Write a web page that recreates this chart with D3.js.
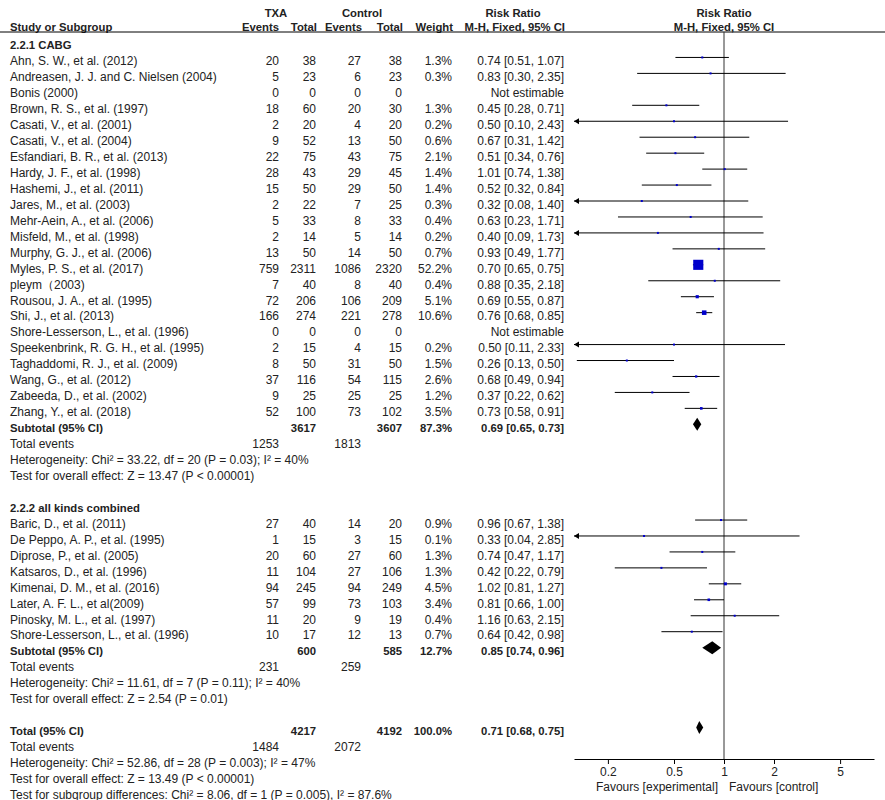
<!DOCTYPE html>
<html>
<head>
<meta charset="utf-8">
<script src="https://cdn.jsdelivr.net/npm/d3@7"></script>
<style>
    body { margin: 0; background: #fff; }
    svg text { font-family: "Liberation Sans", Arial, sans-serif; font-size: 12px; fill: #222; }
    svg text.bold { font-weight: bold; font-size: 11.3px; }
</style>
</head>
<body>
<div id="chart"></div>
<script>
// ---- data ----
let g1Names = ["Ahn, S. W., et al. (2012)", "Andreasen, J. J. and C. Nielsen (2004)", "Bonis (2000)",
    "Brown, R. S., et al. (1997)", "Casati, V., et al. (2001)", "Casati, V., et al. (2004)",
    "Esfandiari, B. R., et al. (2013)", "Hardy, J. F., et al. (1998)", "Hashemi, J., et al. (2011)",
    "Jares, M., et al. (2003)", "Mehr-Aein, A., et al. (2006)", "Misfeld, M., et al. (1998)",
    "Murphy, G. J., et al. (2006)", "Myles, P. S., et al. (2017)", "pleym（2003)",
    "Rousou, J. A., et al. (1995)", "Shi, J., et al. (2013)", "Shore-Lesserson, L., et al. (1996)",
    "Speekenbrink, R. G. H., et al. (1995)", "Taghaddomi, R. J., et al. (2009)", "Wang, G., et al. (2012)",
    "Zabeeda, D., et al. (2002)", "Zhang, Y., et al. (2018)"];
let g1TxaEvents = [20, 5, 0, 18, 2, 9, 22, 28, 15, 2, 5, 2, 13, 759, 7, 72, 166, 0, 2, 8, 37, 9, 52];
let g1TxaTotal = [38, 23, 0, 60, 20, 52, 75, 43, 50, 22, 33, 14, 50, 2311, 40, 206, 274, 0, 15, 50, 116, 25, 100];
let g1CtlEvents = [27, 6, 0, 20, 4, 13, 43, 29, 29, 7, 8, 5, 14, 1086, 8, 106, 221, 0, 4, 31, 54, 25, 73];
let g1CtlTotal = [38, 23, 0, 30, 20, 50, 75, 45, 50, 25, 33, 14, 50, 2320, 40, 209, 278, 0, 15, 50, 115, 25, 102];
let g1Weight = [1.3, 0.3, null, 1.3, 0.2, 0.6, 2.1, 1.4, 1.4, 0.3, 0.4, 0.2, 0.7, 52.2, 0.4, 5.1, 10.6, null, 0.2, 1.5, 2.6, 1.2, 3.5];
let g1RR = [0.74, 0.83, null, 0.45, 0.50, 0.67, 0.51, 1.01, 0.52, 0.32, 0.63, 0.40, 0.93, 0.70, 0.88, 0.69, 0.76, null, 0.50, 0.26, 0.68, 0.37, 0.73];
let g1Lo = [0.51, 0.30, null, 0.28, 0.10, 0.31, 0.34, 0.74, 0.32, 0.08, 0.23, 0.09, 0.49, 0.65, 0.35, 0.55, 0.68, null, 0.11, 0.13, 0.49, 0.22, 0.58];
let g1Hi = [1.07, 2.35, null, 0.71, 2.43, 1.42, 0.76, 1.38, 0.84, 1.40, 1.71, 1.73, 1.77, 0.75, 2.18, 0.87, 0.85, null, 2.33, 0.50, 0.94, 0.62, 0.91];

let g2Names = ["Baric, D., et al. (2011)", "De Peppo, A. P., et al. (1995)", "Diprose, P., et al. (2005)",
    "Katsaros, D., et al. (1996)", "Kimenai, D. M., et al. (2016)", "Later, A. F. L., et al(2009)",
    "Pinosky, M. L., et al. (1997)", "Shore-Lesserson, L., et al. (1996)"];
let g2TxaEvents = [27, 1, 20, 11, 94, 57, 11, 10];
let g2TxaTotal = [40, 15, 60, 104, 245, 99, 20, 17];
let g2CtlEvents = [14, 3, 27, 27, 94, 73, 9, 12];
let g2CtlTotal = [20, 15, 60, 106, 249, 103, 19, 13];
let g2Weight = [0.9, 0.1, 1.3, 1.3, 4.5, 3.4, 0.4, 0.7];
let g2RR = [0.96, 0.33, 0.74, 0.42, 1.02, 0.81, 1.16, 0.64];
let g2Lo = [0.67, 0.04, 0.47, 0.22, 0.81, 0.66, 0.63, 0.42];
let g2Hi = [1.38, 2.85, 1.17, 0.79, 1.27, 1.00, 2.15, 0.98];

// pooled rows: subtotal 2.2.1, subtotal 2.2.2, overall
let pooledTxaTotal = [3617, 600, 4217];
let pooledCtlTotal = [3607, 585, 4192];
let pooledWeight = [87.3, 12.7, 100.0];
let pooledRR = [0.69, 0.85, 0.71];
let pooledLo = [0.65, 0.74, 0.68];
let pooledHi = [0.73, 0.96, 0.75];
let pooledTxaEvents = [1253, 231, 1484];
let pooledCtlEvents = [1813, 259, 2072];
let heterogeneity = ["Heterogeneity: Chi² = 33.22, df = 20 (P = 0.03); I² = 40%",
    "Heterogeneity: Chi² = 11.61, df = 7 (P = 0.11); I² = 40%",
    "Heterogeneity: Chi² = 52.86, df = 28 (P = 0.003); I² = 47%"];
let overallEffect = ["Test for overall effect: Z = 13.47 (P < 0.00001)",
    "Test for overall effect: Z = 2.54 (P = 0.01)",
    "Test for overall effect: Z = 13.49 (P < 0.00001)"];
let subgroupTest = "Test for subgroup differences: Chi² = 8.06, df = 1 (P = 0.005), I² = 87.6%";

let axisTicks = [0.2, 0.5, 1, 2, 5];

// ---- layout ----
let width = 885, height = 800;
let colRight = [279, 316, 361, 402, 452, 564]; // events, total, events, total, weight, CI
let x = d3.scaleLog().domain([0.125, 8]).range([574, 874]);
let rowY = d3.scaleLinear().domain([0, 47]).range([45, 794.7]);
let axisY = 759;

function fmt2(v) { return v.toFixed(2); }
function ciText(rr, lo, hi) { return fmt2(rr) + " [" + fmt2(lo) + ", " + fmt2(hi) + "]"; }

// build list of table rows
let rows = [];
let r = 0;
function addGroup(title, names, te, tt, ce, ct, w, rr, lo, hi, k) {
    rows.push({row: r++, label: title, bold: true});
    for (let i = 0; i < names.length; i++) {
        rows.push({row: r++, label: names[i], cells: [te[i], tt[i], ce[i], ct[i],
            w[i] == null ? "" : w[i].toFixed(1) + "%",
            rr[i] == null ? "Not estimable" : ciText(rr[i], lo[i], hi[i])],
            study: rr[i] == null ? null : {rr: rr[i], lo: lo[i], hi: hi[i], w: w[i]}});
    }
    addPooled("Subtotal (95% CI)", k);
}
function addPooled(label, k) {
    rows.push({row: r++, label: label, bold: true,
        cells: ["", pooledTxaTotal[k], "", pooledCtlTotal[k], pooledWeight[k].toFixed(1) + "%",
            ciText(pooledRR[k], pooledLo[k], pooledHi[k])],
        pooled: {rr: pooledRR[k], lo: pooledLo[k], hi: pooledHi[k]}});
    rows.push({row: r++, label: "Total events", cells: [pooledTxaEvents[k], "", pooledCtlEvents[k], "", "", ""]});
    rows.push({row: r++, label: heterogeneity[k]});
    rows.push({row: r++, label: overallEffect[k]});
}
addGroup("2.2.1 CABG", g1Names, g1TxaEvents, g1TxaTotal, g1CtlEvents, g1CtlTotal, g1Weight, g1RR, g1Lo, g1Hi, 0);
r++;
addGroup("2.2.2 all kinds combined", g2Names, g2TxaEvents, g2TxaTotal, g2CtlEvents, g2CtlTotal, g2Weight, g2RR, g2Lo, g2Hi, 1);
r++;
addPooled("Total (95% CI)", 2);
rows.push({row: r++, label: subgroupTest});

let svg = d3.select("#chart").append("svg")
    .attr("width", width)
    .attr("height", height);

// ---- header ----
let head = svg.append("g");
head.append("text").attr("class", "bold").attr("x", 276).attr("y", 16.5).attr("text-anchor", "middle").text("TXA");
head.append("text").attr("class", "bold").attr("x", 362).attr("y", 16.5).attr("text-anchor", "middle").text("Control");
head.append("text").attr("class", "bold").attr("x", 513).attr("y", 16.5).attr("text-anchor", "middle").text("Risk Ratio");
head.append("text").attr("class", "bold").attr("x", x(1)).attr("y", 16.5).attr("text-anchor", "middle").text("Risk Ratio");
head.append("text").attr("class", "bold").attr("x", 10).attr("y", 30.5).text("Study or Subgroup");
let subHeads = ["Events", "Total", "Events", "Total", "Weight", "M-H, Fixed, 95% CI"];
head.selectAll(".subhead").data(subHeads).enter().append("text")
    .attr("class", "bold subhead")
    .attr("x", function(d, i) { return colRight[i] + (i == 0 ? 0 : 1); })
    .attr("y", 30.5)
    .attr("text-anchor", "end")
    .text(function(d) { return d; });
head.append("text").attr("class", "bold").attr("x", x(1)).attr("y", 30.5).attr("text-anchor", "middle").text("M-H, Fixed, 95% CI");
svg.append("line").attr("x1", 0).attr("x2", width).attr("y1", 32).attr("y2", 32)
    .attr("stroke", "#000").attr("stroke-width", 1);

// ---- table text ----
let tbl = svg.append("g");
tbl.selectAll(".label").data(rows).enter().append("text")
    .attr("class", function(d) { return d.bold ? "label bold" : "label"; })
    .attr("x", 10)
    .attr("y", function(d) { return rowY(d.row) + 4.3; })
    .text(function(d) { return d.label; });

rows.filter(function(d) { return d.cells; }).forEach(function(d) {
    tbl.selectAll(null).data(d.cells).enter().append("text")
        .attr("class", d.bold ? "bold" : null)
        .attr("x", function(c, i) { return colRight[i]; })
        .attr("y", rowY(d.row) + 4.3)
        .attr("text-anchor", "end")
        .text(function(c) { return c; });
});

// ---- forest plot ----
let plot = svg.append("g");
plot.append("line")
    .attr("x1", x(1)).attr("x2", x(1))
    .attr("y1", 32).attr("y2", axisY)
    .attr("stroke", "#333").attr("stroke-width", 1);

let studies = rows.filter(function(d) { return d.study; });
let xmin = x.domain()[0];

plot.selectAll(".ci").data(studies).enter().append("line")
    .attr("class", "ci")
    .attr("x1", function(d) { return x(Math.max(d.study.lo, xmin)); })
    .attr("x2", function(d) { return x(d.study.hi); })
    .attr("y1", function(d) { return rowY(d.row) - 3.5; })
    .attr("y2", function(d) { return rowY(d.row) - 3.5; })
    .attr("stroke", "#000").attr("stroke-width", 1);

// arrows where the interval runs off the left edge
plot.selectAll(".arrow").data(studies.filter(function(d) { return d.study.lo < xmin; })).enter().append("path")
    .attr("class", "arrow")
    .attr("d", function(d) {
        let y = rowY(d.row) - 3.5, x0 = x(xmin);
        return "M" + x0 + "," + y + "L" + (x0 + 5) + "," + (y - 3) + "L" + (x0 + 5) + "," + (y + 3) + "Z";
    })
    .attr("fill", "#000");

function boxSize(w) { return Math.max(2, 1.4 * Math.sqrt(w)); }
plot.selectAll(".box").data(studies).enter().append("rect")
    .attr("class", "box")
    .attr("x", function(d) { return x(d.study.rr) - boxSize(d.study.w) / 2; })
    .attr("y", function(d) { return rowY(d.row) - 3.5 - boxSize(d.study.w) / 2; })
    .attr("width", function(d) { return boxSize(d.study.w); })
    .attr("height", function(d) { return boxSize(d.study.w); })
    .attr("fill", "#0000cc");

plot.selectAll(".diamond").data(rows.filter(function(d) { return d.pooled; })).enter().append("path")
    .attr("class", "diamond")
    .attr("d", function(d) {
        let y = rowY(d.row) - 3.5, p = d.pooled;
        return "M" + x(p.lo) + "," + y + "L" + x(p.rr) + "," + (y - 6.5) +
            "L" + x(p.hi) + "," + y + "L" + x(p.rr) + "," + (y + 6.5) + "Z";
    })
    .attr("fill", "#000");

// ---- axis ----
let axis = svg.append("g")
    .attr("transform", "translate(0," + axisY + ")")
    .call(d3.axisBottom(x).tickValues(axisTicks).tickFormat(function(d) { return d; })
        .tickSize(5).tickSizeOuter(0).tickPadding(3));
axis.select(".domain").attr("stroke", "#000");
axis.selectAll(".tick line").attr("stroke", "#000");
axis.selectAll("text").attr("font-family", null).attr("font-size", null).attr("fill", null);

svg.append("text").attr("x", x(1) - 6).attr("y", 791).attr("text-anchor", "end").text("Favours [experimental]");
svg.append("text").attr("x", x(1) + 5).attr("y", 791).text("Favours [control]");
</script>
</body>
</html>
